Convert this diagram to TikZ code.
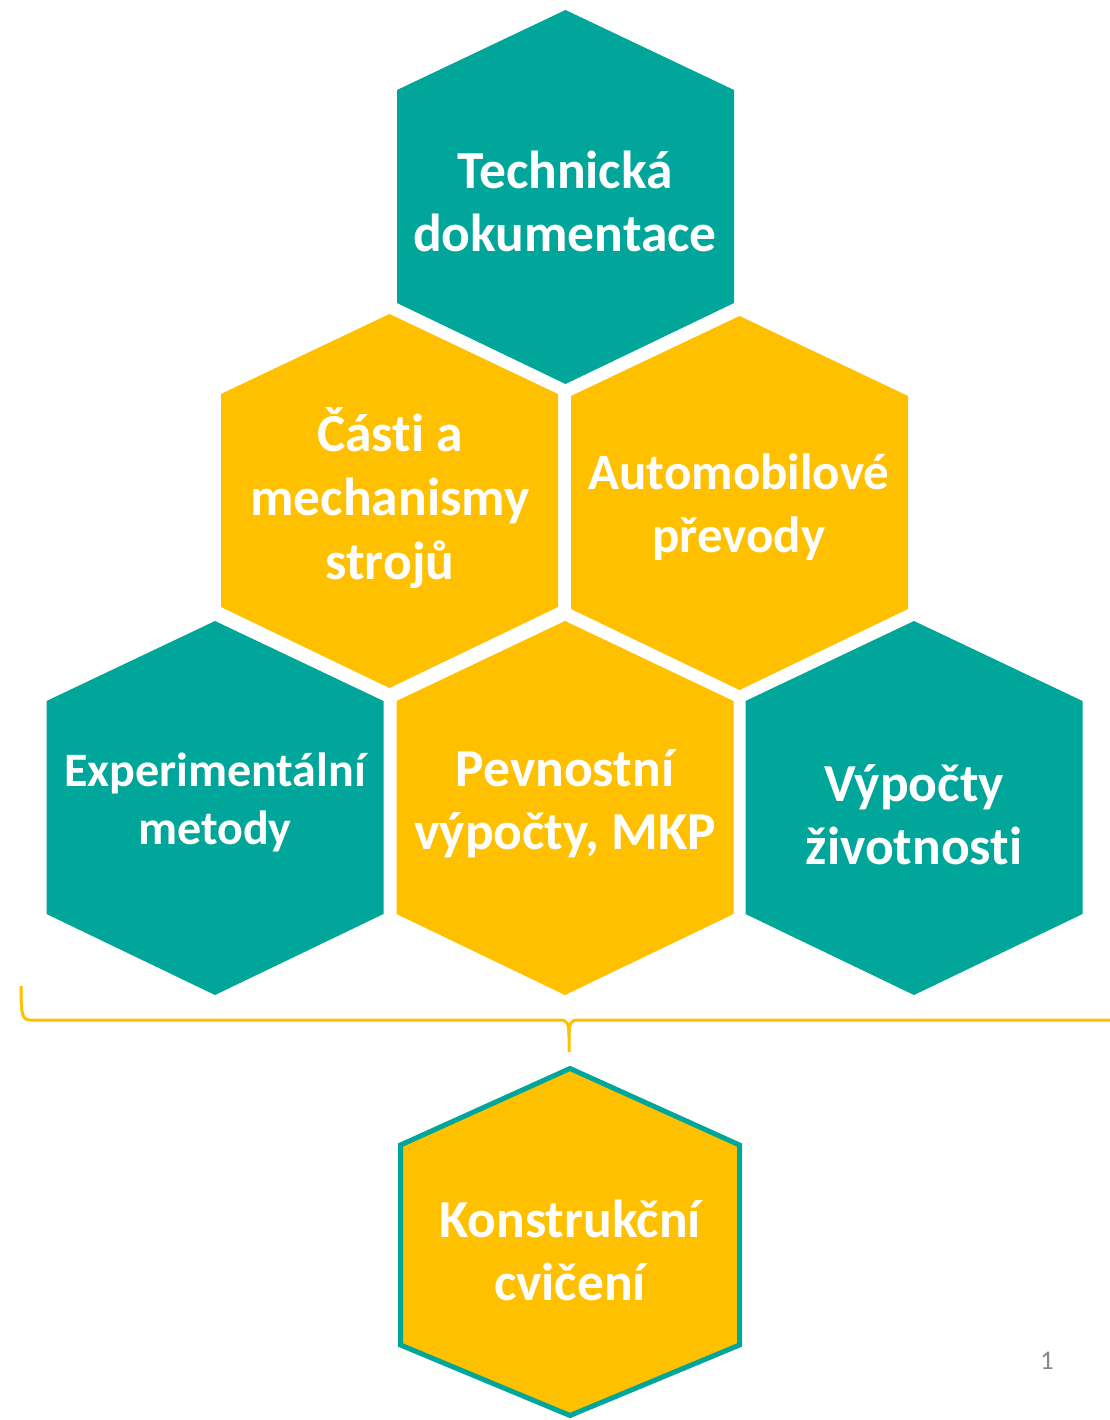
\documentclass[tikz,border=0pt]{standalone}
\usepackage{fontspec}
\setmainfont{Carlito}[Ligatures=NoCommon]
\definecolor{hexteal}{RGB}{0,166,154}
\definecolor{hexyellow}{RGB}{255,192,0}
\definecolor{pagegray}{RGB}{137,137,137}
\tikzset{
  hexagon/.pic={\path[pic actions] (0,-187) -- (168.5,-107) -- (168.5,106) -- (0,187) -- (-168.5,106) -- (-168.5,-107) -- cycle;},
  hexlabel/.style={text=white, align=center, inner sep=0pt, font=\bfseries\fontsize{53.5}{63}\selectfont},
  bracestyle/.style={draw=hexyellow, line width=3pt},
}
\begin{document}
\begin{tikzpicture}[x=1pt,y=-1pt]
\useasboundingbox (0,0) rectangle (1109,1420);
% hexagons
\pic[fill=hexteal]   at (565.5,197) {hexagon};
\pic[fill=hexyellow] at (389.5,501) {hexagon};
\pic[fill=hexyellow] at (739.5,503) {hexagon};
\pic[fill=hexteal]   at (215,808) {hexagon};
\pic[fill=hexyellow] at (565,808) {hexagon};
\pic[fill=hexteal]   at (914,808) {hexagon};
% bottom outlined hexagon
\path[fill=hexyellow, draw=hexteal, line width=5pt]
  (570,1068.5) -- (739.5,1145) -- (739.5,1345) -- (570,1415.5) -- (400.5,1345) -- (400.5,1145) -- cycle;
% labels
\node[hexlabel] (tech) at (565,201) {Technická\\dokumentace};
\node[hexlabel, font=\bfseries\fontsize{53.5}{64}\selectfont] (casti) at (390,498.5) {Části a\\mechanismy\\strojů};
\node[hexlabel, font=\bfseries\fontsize{51}{63}\selectfont] (auto) at (739,507) {Automobilové\\převody};
\node[hexlabel, font=\bfseries\fontsize{48}{58}\selectfont] (exp) at (215,802) {Experimentální\\metody};
\node[hexlabel] (pev) at (565,803.5) {Pevnostní\\výpočty, MKP};
\node[hexlabel] (vyp) at (914,815) {Výpočty\\životnosti};
\node[hexlabel] (kon) at (570,1250.5) {Konstrukční\\cvičení};
% brace
\coordinate (bl) at (21,986);
\coordinate (bm) at (569,1052);
\coordinate (br) at (1115,1020);
\draw[bracestyle] (bl) .. controls (21,1014) and (22,1020) .. (30,1020) -- (560,1020)
  .. controls (567,1020) and (569,1023) .. (569,1036) -- (bm);
\draw[bracestyle] (569,1036) .. controls (569,1023) and (571,1020) .. (578,1020) -- (br);
% page number
\node[text=pagegray, font=\fontsize{27}{30}\selectfont, inner sep=0pt] (pg) at (1047,1361) {1};
\end{tikzpicture}
\end{document}
